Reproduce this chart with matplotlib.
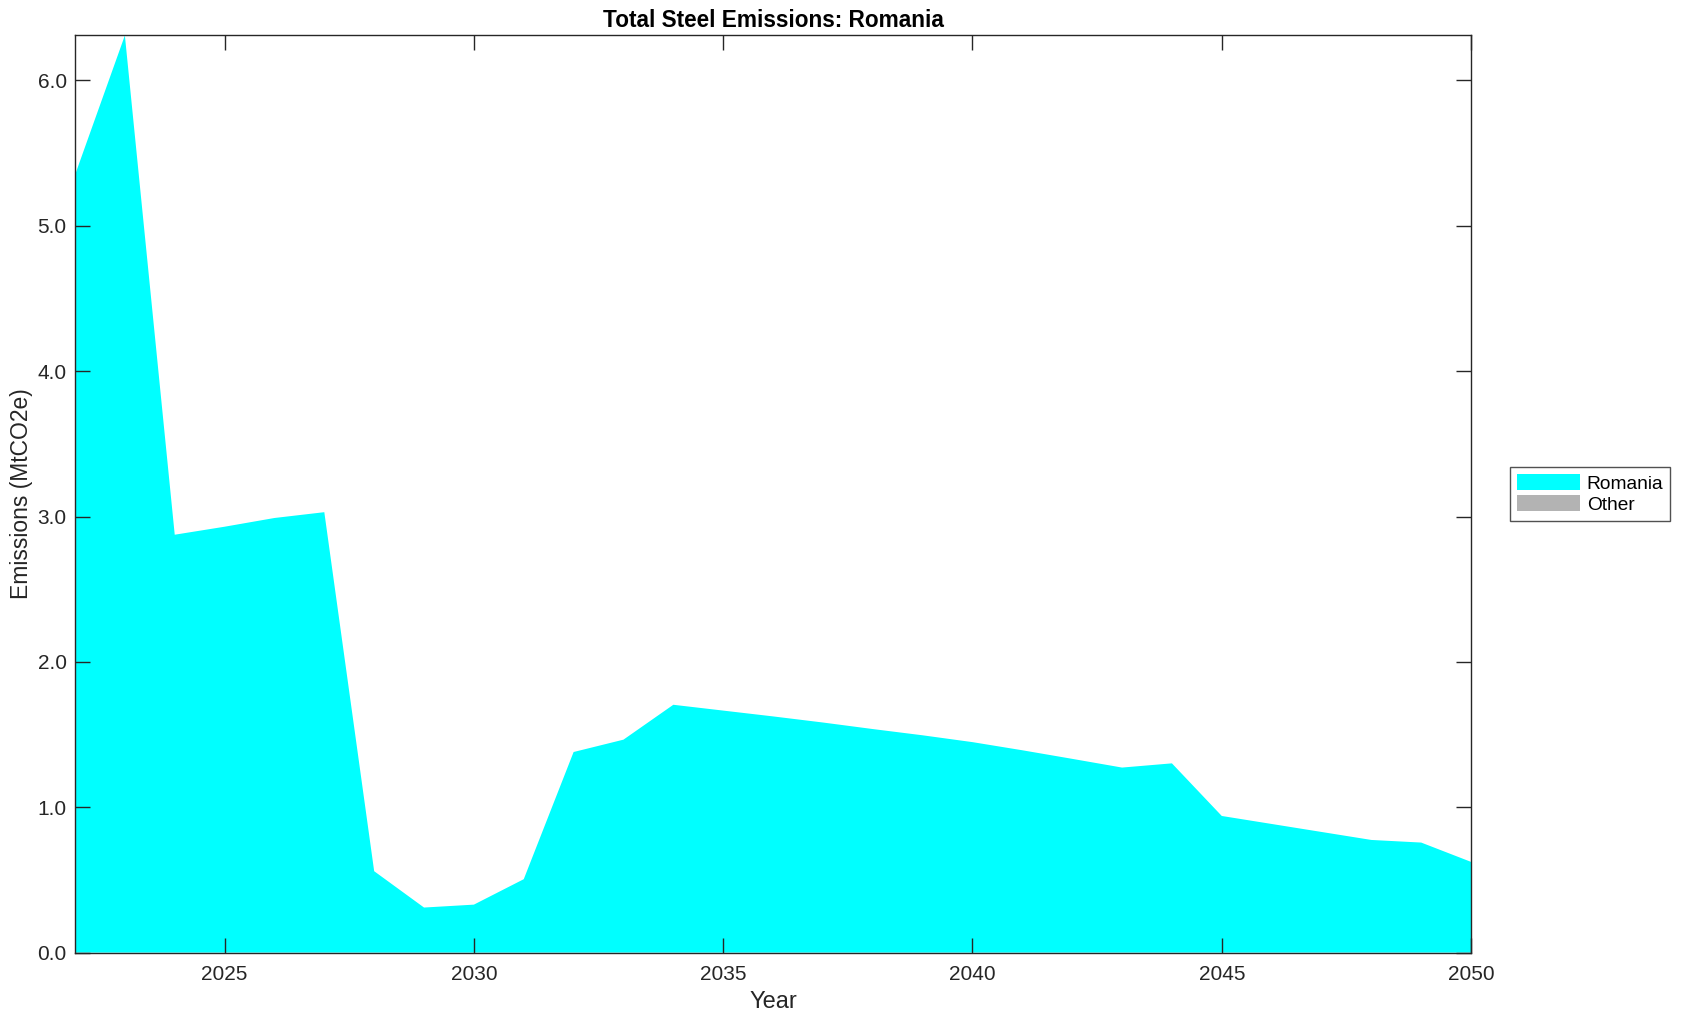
#!/usr/bin/env python3
"""Stacked area chart of total steel emissions for Romania."""

import matplotlib
matplotlib.use("Agg")
import matplotlib.pyplot as plt
import numpy as np

plt.rcParams["font.family"] = ["Liberation Sans", "DejaVu Sans"]

years = list(range(2022, 2051))
romania = [
    5.35, 6.31, 2.875, 2.93, 2.99, 3.03, 0.56, 0.31, 0.33, 0.505,
    1.38, 1.465, 1.705, 1.665, 1.625, 1.583, 1.538, 1.495, 1.448, 1.392,
    1.333, 1.273, 1.302, 0.94, 0.885, 0.83, 0.775, 0.757, 0.624,
]
other = [0.0] * len(years)
series_names = ["Romania", "Other"]
series_colors = ["#00ffff", "#b3b3b3"]
x_ticks = [2025, 2030, 2035, 2040, 2045, 2050]
y_ticks = [0.0, 1.0, 2.0, 3.0, 4.0, 5.0, 6.0]

fig = plt.figure(figsize=(16.82, 10.21), dpi=100)
ax = fig.add_axes([0.0446, 0.067, 0.83, 0.8983])

ax.stackplot(years, romania, other, labels=series_names,
             colors=series_colors, linewidth=0)

total = np.array(romania) + np.array(other)
ax.set_xlim(years[0], years[-1])
ax.set_ylim(0, total.max())
ax.set_xticks(x_ticks)
ax.set_yticks(y_ticks)
ax.set_yticklabels([f"{v:.1f}" for v in y_ticks])
ax.tick_params(direction="in", length=11, width=1, top=True, right=True,
               labelsize=15, colors="#262626")
ax.tick_params(axis="x", pad=9)
ax.tick_params(axis="y", pad=6)
for spine in ax.spines.values():
    spine.set_linewidth(1)
    spine.set_color("#262626")

ax.set_xlabel("Year", fontsize=17, color="#262626", labelpad=5)
ax.set_ylabel("Emissions (MtCO2e)", fontsize=16.5, color="#262626", labelpad=3)
ax.set_title("Total Steel Emissions: Romania", fontsize=16.3,
             fontweight="bold", pad=6)

leg = ax.legend(loc="center left", bbox_to_anchor=(1.028, 0.5), fontsize=13.8,
                frameon=True, fancybox=False, edgecolor="#262626",
                handlelength=3.3, handleheight=0.9, borderpad=0.35,
                labelspacing=0.15, handletextpad=0.35, borderaxespad=0)
leg.get_frame().set_linewidth(1)

fig.savefig("out.png", dpi=100)
